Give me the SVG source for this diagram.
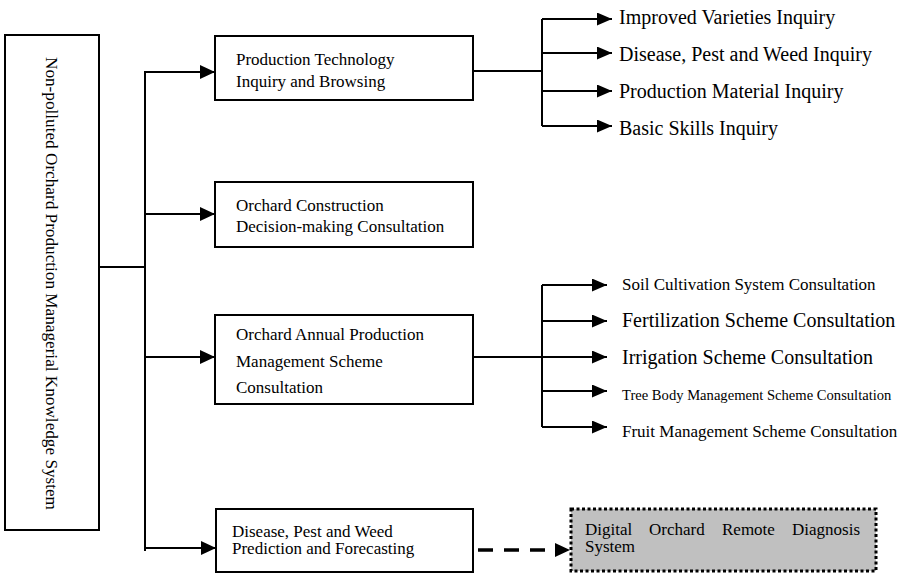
<svg xmlns="http://www.w3.org/2000/svg" width="908" height="574" viewBox="0 0 908 574">
<defs>
<style>
.box{fill:#fff;stroke:#000;stroke-width:2}
.t{font-family:"Liberation Serif","Times New Roman",serif;fill:#000}
.c{fill:none;stroke:#000;stroke-width:2}
</style>
<marker id="ah" markerUnits="userSpaceOnUse" markerWidth="16" markerHeight="14" refX="15" refY="7" orient="auto">
<path d="M0,0 L15,7 L0,14 z" fill="#000"/>
</marker>
<marker id="ahs" markerUnits="userSpaceOnUse" markerWidth="16" markerHeight="14" refX="15" refY="6.5" orient="auto">
<path d="M0,0 L15,6.5 L0,13 z" fill="#000"/>
</marker>
</defs>
<rect width="908" height="574" fill="#fff"/>
<g id="connectors">
<path class="c" d="M99,267 H145 M145,71 V551"/>
<path class="c" d="M145,72 H215" marker-end="url(#ah)"/>
<path class="c" d="M145,214 H215" marker-end="url(#ah)"/>
<path class="c" d="M145,357 H215" marker-end="url(#ah)"/>
<path class="c" d="M145,548 H216" marker-end="url(#ah)"/>
<path class="c" d="M473,71 H542 M542,19 V126"/>
<path class="c" d="M542,19 H612" marker-end="url(#ahs)"/>
<path class="c" d="M542,53 H612" marker-end="url(#ahs)"/>
<path class="c" d="M542,91 H612" marker-end="url(#ahs)"/>
<path class="c" d="M542,126 H612" marker-end="url(#ahs)"/>
<path class="c" d="M473,357 H542 M542,285 V427"/>
<path class="c" d="M542,285 H607" marker-end="url(#ahs)"/>
<path class="c" d="M542,321 H607" marker-end="url(#ahs)"/>
<path class="c" d="M542,357 H607" marker-end="url(#ahs)"/>
<path class="c" d="M542,391 H607" marker-end="url(#ahs)"/>
<path class="c" d="M542,427 H607" marker-end="url(#ahs)"/>
<path d="M478,550 H566" fill="none" stroke="#000" stroke-width="3.5" stroke-dasharray="15,11"/>
<path d="M555,543 L570,550 L555,557 z" fill="#000"/>
</g>
<g id="root">
<rect class="box" x="5" y="35" width="94" height="495"/>
<text class="t" font-size="17.2" transform="translate(46,283.5) rotate(90)" text-anchor="middle">Non-polluted Orchard Production Managerial Knowledge System</text>
</g>
<g id="n1">
<rect class="box" x="215" y="36" width="258" height="64"/>
<text class="t" font-size="17" x="236" y="65">Production Technology</text>
<text class="t" font-size="17" x="236" y="87">Inquiry and Browsing</text>
</g>
<g id="n2">
<rect class="box" x="215" y="182" width="258" height="65"/>
<text class="t" font-size="17" x="236" y="211">Orchard Construction</text>
<text class="t" font-size="17" x="236" y="232">Decision-making Consultation</text>
</g>
<g id="n3">
<rect class="box" x="215" y="315" width="258" height="89"/>
<text class="t" font-size="17" x="236" y="340">Orchard Annual Production</text>
<text class="t" font-size="17" x="236" y="367">Management Scheme</text>
<text class="t" font-size="17" x="236" y="393">Consultation</text>
</g>
<g id="n4">
<rect class="box" x="216" y="509" width="257" height="63"/>
<text class="t" font-size="17" x="232" y="537">Disease, Pest and Weed</text>
<text class="t" font-size="17" x="232" y="554">Prediction and Forecasting</text>
</g>
<g id="l1">
<text class="t" font-size="20" x="619" y="24">Improved Varieties Inquiry</text>
</g>
<g id="l2">
<text class="t" font-size="20" x="619" y="61">Disease, Pest and Weed Inquiry</text>
</g>
<g id="l3">
<text class="t" font-size="20" x="619" y="98">Production Material Inquiry</text>
</g>
<g id="l4">
<text class="t" font-size="20" x="619" y="135">Basic Skills Inquiry</text>
</g>
<g id="m1">
<text class="t" font-size="17" x="622" y="290">Soil Cultivation System Consultation</text>
</g>
<g id="m2">
<text class="t" font-size="20" x="622" y="327">Fertilization Scheme Consultation</text>
</g>
<g id="m3">
<text class="t" font-size="20" x="622" y="364">Irrigation Scheme Consultation</text>
</g>
<g id="m4">
<text class="t" font-size="14.6" x="622" y="400">Tree Body Management Scheme Consultation</text>
</g>
<g id="m5">
<text class="t" font-size="17" x="622" y="437">Fruit Management Scheme Consultation</text>
</g>
<g id="remote">
<rect x="571" y="509" width="305" height="62" fill="#c0c0c0" stroke="#000" stroke-width="3" stroke-dasharray="3,2.5"/>
<text class="t" font-size="17" y="535"><tspan x="585">Digital</tspan><tspan x="649">Orchard</tspan><tspan x="722">Remote</tspan><tspan x="792">Diagnosis</tspan></text>
<text class="t" font-size="17" x="585" y="552">System</text>
</g>
</svg>
